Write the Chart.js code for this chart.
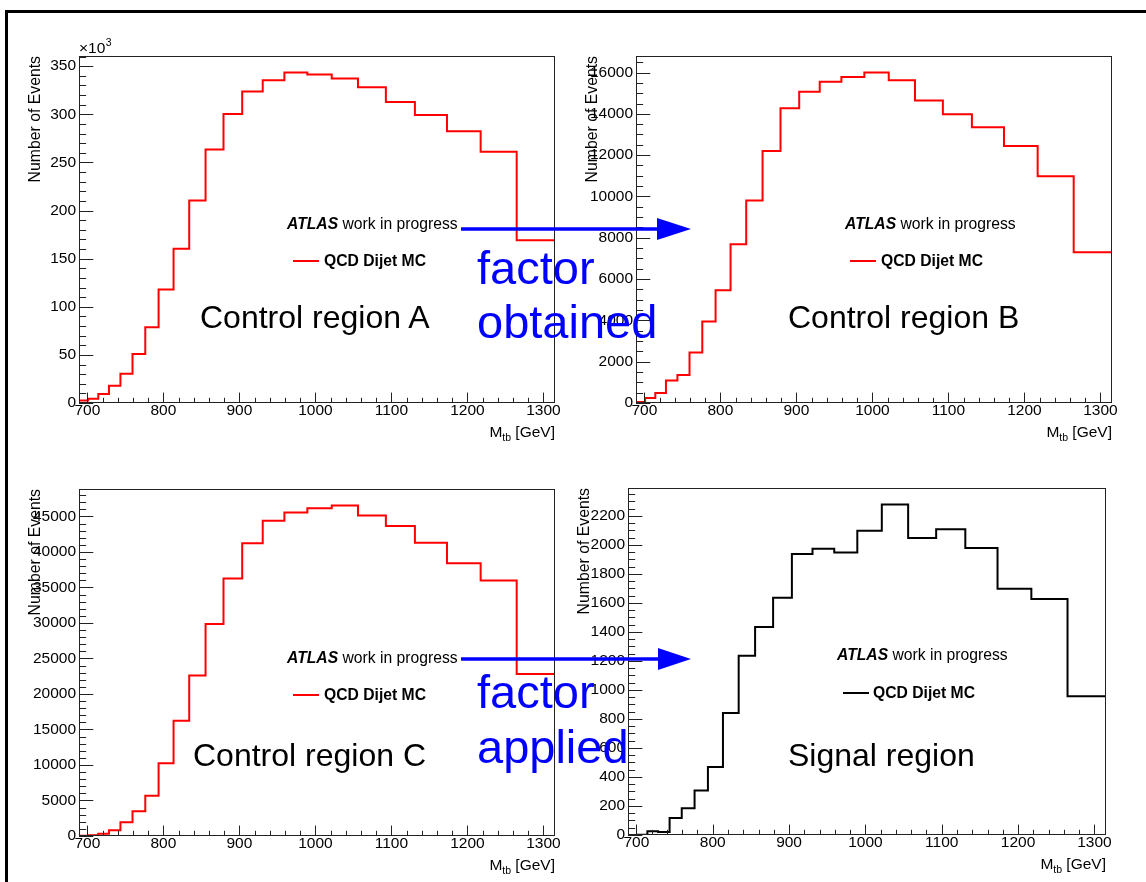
<!DOCTYPE html>
<html>
<head>
<meta charset="utf-8">
<title>QCD Dijet MC - ABCD regions</title>
<script src="https://cdn.jsdelivr.net/npm/chart.js@4.4.1/dist/chart.umd.min.js"></script>
<style>
  body { margin: 0; background: #fff; width: 1146px; height: 882px; overflow: hidden; position: relative;
         font-family: 'Liberation Sans', Arial, sans-serif; }
  canvas { position: absolute; }
  #border { position: absolute; left: 5px; top: 10px; width: 1200px; height: 900px;
            border-top: 3.5px solid #000; border-left: 3.5px solid #000; }
  .txt { position: absolute; white-space: nowrap; color: #000; line-height: 1; }
  .atlas { font-size: 15.7px; }
  .leg { font-size: 15.7px; font-weight: bold; }
  .region { font-size: 32px; }
  .blue { font-size: 47px; color: #0000ff; }
  .legline { position: absolute; height: 2px; }
</style>
</head>
<body>
<div id="border"></div>
<canvas id="chartA"></canvas>
<canvas id="chartB"></canvas>
<canvas id="chartC"></canvas>
<canvas id="chartD"></canvas>

<!-- panel annotations -->
<div class="txt atlas" style="left:287px;top:216px"><b><i>ATLAS</i></b> work in progress</div>
<div class="legline" style="left:293px;top:260px;width:26px;background:#ff0000"></div>
<div class="txt leg" style="left:324px;top:253px">QCD Dijet MC</div>
<div class="txt region" style="left:200px;top:301px">Control region A</div>

<div class="txt atlas" style="left:845px;top:216px"><b><i>ATLAS</i></b> work in progress</div>
<div class="legline" style="left:850px;top:260px;width:26px;background:#ff0000"></div>
<div class="txt leg" style="left:881px;top:253px">QCD Dijet MC</div>
<div class="txt region" style="left:788px;top:301px">Control region B</div>

<div class="txt atlas" style="left:287px;top:650px"><b><i>ATLAS</i></b> work in progress</div>
<div class="legline" style="left:293px;top:694px;width:26px;background:#ff0000"></div>
<div class="txt leg" style="left:324px;top:687px">QCD Dijet MC</div>
<div class="txt region" style="left:193px;top:739px">Control region C</div>

<div class="txt atlas" style="left:837px;top:647px"><b><i>ATLAS</i></b> work in progress</div>
<div class="legline" style="left:843px;top:692px;width:26px;background:#000"></div>
<div class="txt leg" style="left:873px;top:685px">QCD Dijet MC</div>
<div class="txt region" style="left:788px;top:739px">Signal region</div>

<!-- arrows between regions -->
<svg width="1146" height="882" style="position:absolute;left:0;top:0">
  <line x1="461" y1="229" x2="660" y2="229" stroke="#0000ff" stroke-width="3.5"/>
  <polygon points="657,218 691,229 657,240" fill="#0000ff"/>
  <line x1="461" y1="659" x2="661" y2="659" stroke="#0000ff" stroke-width="3.5"/>
  <polygon points="658,648 691,659 658,670" fill="#0000ff"/>
</svg>
<div class="txt blue" style="left:477px;top:244px">factor</div>
<div class="txt blue" style="left:477px;top:298px">obtained</div>
<div class="txt blue" style="left:477px;top:668px">factor</div>
<div class="txt blue" style="left:477px;top:723px">applied</div>

<script>
// bin edges in M_tb [GeV] (23 variable-width bins)
const binEdges = [689, 701, 714.4, 728.4, 743.5, 759.4, 776.2, 793.7, 813.4, 834, 855.5, 879.1,
                  903.7, 930.7, 959.2, 989.4, 1021.5, 1056, 1092.7, 1130.9, 1173.1, 1217.4, 1264.8, 1315.2];
const xTicks = [700, 800, 900, 1000, 1100, 1200, 1300];

// events per bin (region A is in units of 10^3)
const regionA = [2.5, 4.5, 9.3, 18, 30.3, 51, 78.6, 118, 160.3, 210.3, 263.4, 300.3,
                 323.8, 335.5, 343.4, 341.4, 337.2, 328, 312.8, 299.3, 282.4, 261, 169];
const regionB = [50, 240, 480, 1090, 1350, 2440, 3950, 5460, 7690, 9810, 12200, 14270,
                 15070, 15550, 15780, 16000, 15620, 14640, 13980, 13350, 12440, 10980, 7300];
const regionC = [40, 120, 330, 800, 1950, 3500, 5660, 10240, 16230, 22590, 29840, 36250,
                 41210, 44390, 45560, 46160, 46540, 45130, 43640, 41300, 38400, 35970, 22830];
const signalD = [0, 2, 25, 20, 117, 185, 306, 469, 841, 1235, 1434, 1635,
                 1937, 1973, 1948, 2097, 2278, 2047, 2108, 1978, 1697, 1626, 956];

// y tick labels
const yTicksA = [0, 50, 100, 150, 200, 250, 300, 350];
const yTicksB = [0, 2000, 4000, 6000, 8000, 10000, 12000, 14000, 16000];
const yTicksC = [0, 5000, 10000, 15000, 20000, 25000, 30000, 35000, 40000, 45000];
const yTicksD = [0, 200, 400, 600, 800, 1000, 1200, 1400, 1600, 1800, 2000, 2200];

Chart.defaults.font.family = "'Liberation Sans', Arial, sans-serif";

const PAD_L = 78, PAD_T = 30, PAD_R = 15, PAD_B = 50;

// ROOT-like frame: ticks inside the frame, axis titles
const rootFrame = {
  id: 'rootFrame',
  afterDraw(chart, args, o) {
    const { ctx, chartArea: a, scales: { x, y } } = chart;
    const w = a.right - a.left, h = a.bottom - a.top;
    ctx.save();
    ctx.strokeStyle = '#222';
    ctx.lineWidth = 1;
    ctx.strokeRect(a.left + 0.5, a.top + 0.5, w - 1, h - 1);

    ctx.beginPath();
    const per = Math.round(o.yMajor / o.yMinor);
    for (let i = 0; i * o.yMinor <= y.max; i++) {
      const py = Math.round(y.getPixelForValue(i * o.yMinor)) + 0.5;
      const len = (i % per === 0 ? 0.03 : 0.015) * w;
      ctx.moveTo(a.left, py);
      ctx.lineTo(a.left + len, py);
    }
    for (let v = 700; v <= x.max; v += 20) {
      const px = Math.round(x.getPixelForValue(v)) + 0.5;
      const len = (v % 100 === 0 ? 0.03 : 0.015) * h;
      ctx.moveTo(px, a.bottom);
      ctx.lineTo(px, a.bottom - len);
    }
    ctx.stroke();

    // y title
    ctx.fillStyle = '#000';
    ctx.font = "15.8px 'Liberation Sans', Arial, sans-serif";
    ctx.save();
    ctx.translate(a.left - 39, a.top);
    ctx.rotate(-Math.PI / 2);
    ctx.textAlign = 'right';
    ctx.textBaseline = 'alphabetic';
    ctx.fillText('Number of Events', 0, 0);
    ctx.restore();

    // x title: M_tb [GeV]
    const base = a.bottom + 34;
    ctx.textBaseline = 'alphabetic';
    ctx.textAlign = 'left';
    const big = "15.5px 'Liberation Sans', Arial, sans-serif";
    const small = "10.5px 'Liberation Sans', Arial, sans-serif";
    ctx.font = big;
    const wM = ctx.measureText('M').width, wRest = ctx.measureText(' [GeV]').width;
    ctx.font = small;
    const wSub = ctx.measureText('tb').width;
    let tx = a.right - wM - wSub - wRest;
    ctx.font = big;
    ctx.fillText('M', tx, base);
    ctx.font = small;
    ctx.fillText('tb', tx + wM, base + 4);
    ctx.font = big;
    ctx.fillText(' [GeV]', tx + wM + wSub, base);

    if (o.multiplier) {
      ctx.font = big;
      ctx.fillText('\u00d710', a.left, a.top - 3);
      const wx = ctx.measureText('\u00d710').width;
      ctx.font = small;
      ctx.fillText('3', a.left + wx + 0.5, a.top - 10);
    }
    ctx.restore();
  }
};

function histPoints(values) {
  const pts = values.map((v, i) => ({ x: binEdges[i], y: v }));
  pts.push({ x: binEdges[values.length], y: values[values.length - 1] });
  return pts;
}

function makePanel(id, box, values, yTicks, yMinor, color, multiplier) {
  const cv = document.getElementById(id);
  cv.width = box.w + PAD_L + PAD_R;
  cv.height = box.h + PAD_T + PAD_B;
  cv.style.left = (box.left - PAD_L) + 'px';
  cv.style.top = (box.top - PAD_T) + 'px';
  const yMax = Math.max(...values) * 1.05;
  new Chart(cv.getContext('2d'), {
    type: 'line',
    data: {
      datasets: [{
        label: 'QCD Dijet MC',
        data: histPoints(values),
        borderColor: color,
        borderWidth: 2,
        stepped: 'before',
        pointRadius: 0,
        fill: false,
        tension: 0
      }]
    },
    options: {
      responsive: false,
      animation: false,
      layout: { padding: { left: 0, top: PAD_T, right: PAD_R, bottom: 0 } },
      plugins: {
        legend: { display: false },
        tooltip: { enabled: false },
        rootFrame: { yMajor: yTicks[1] - yTicks[0], yMinor: yMinor, multiplier: multiplier }
      },
      scales: {
        x: {
          type: 'linear',
          min: binEdges[0],
          max: binEdges[binEdges.length - 1],
          afterBuildTicks: s => { s.ticks = xTicks.map(v => ({ value: v })); },
          afterFit: s => { s.height = PAD_B; },
          grid: { display: false, drawTicks: false, tickLength: 0 },
          border: { display: false },
          ticks: {
            color: '#000', padding: 0, maxRotation: 0, autoSkip: false,
            font: { size: 15.5, lineHeight: 1 },
            callback: v => String(v)
          }
        },
        y: {
          type: 'linear',
          min: 0,
          max: yMax,
          afterBuildTicks: s => { s.ticks = yTicks.map(v => ({ value: v })); },
          afterFit: s => { s.width = PAD_L; },
          grid: { display: false, drawTicks: false, tickLength: 0 },
          border: { display: false },
          ticks: {
            color: '#000', padding: 3, autoSkip: false,
            font: { size: 15.5, lineHeight: 1 },
            callback: v => String(v)
          }
        }
      }
    },
    plugins: [rootFrame]
  });
}

makePanel('chartA', { left: 79, top: 56, w: 476, h: 347 }, regionA, yTicksA, 10, '#ff0000', true);
makePanel('chartB', { left: 636, top: 56, w: 476, h: 347 }, regionB, yTicksB, 500, '#ff0000', false);
makePanel('chartC', { left: 79, top: 489, w: 476, h: 347 }, regionC, yTicksC, 1000, '#ff0000', false);
makePanel('chartD', { left: 628, top: 488, w: 478, h: 347 }, signalD, yTicksD, 50, '#000000', false);
</script>
</body>
</html>
